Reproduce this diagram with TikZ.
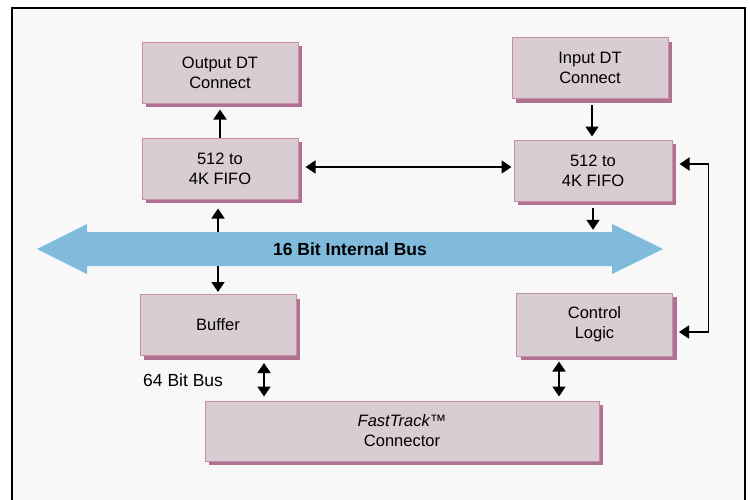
\documentclass[tikz,border=0pt]{standalone}
\usepackage{fontspec}
\setmainfont{Liberation Sans}
\usetikzlibrary{arrows.meta,shadows}
\definecolor{boxfill}{HTML}{D9CCD2}
\definecolor{boxline}{HTML}{C490A8}
\definecolor{boxshade}{HTML}{B07290}
\definecolor{busblue}{HTML}{80BADC}
\definecolor{paper}{HTML}{F8F8F8}
\tikzset{
    unit/.style={rectangle, draw=boxline, fill=boxfill, line width=1pt,
        minimum width=156pt, minimum height=61pt, align=center,
        font=\fontsize{16.5}{20}\selectfont,
        drop shadow={shadow xshift=4pt, shadow yshift=-4pt, fill=boxshade, opacity=1}},
    link/.style={line width=1.6pt, {Triangle[length=10pt,width=13pt]}-{Triangle[length=10pt,width=13pt]}},
    onelink/.style={line width=1.6pt, -{Triangle[length=10pt,width=13pt]}}
}
\begin{document}
\begin{tikzpicture}[x=1pt,y=-1pt]
        \useasboundingbox (0,0) rectangle (750,499);
        \clip (0,0) rectangle (750,499);
        \filldraw [fill=paper, line width=2pt] (12,8) rectangle (745,530);
        \fill [busblue] (37,249) -- (87,224) -- (87,232) -- (612,232) -- (612,224)
            -- (663,249) -- (612,274) -- (612,266) -- (87,266) -- (87,274) -- cycle;
        \node (bus) at (350,249) [minimum width=525pt, minimum height=34pt, inner sep=0pt,
            font=\fontsize{17.5}{20}\selectfont\bfseries] {16 Bit Internal Bus};
        \node[unit] (outdt) at (220,72.5) {Output DT\\Connect};
        \node[unit] (fifol) at (220,168.5) {512 to\\4K FIFO};
        \node[unit] (indt) at (590,68) {Input DT\\Connect};
        \node[unit, minimum width=158pt] (fifor) at (593,170.5) {512 to\\4K FIFO};
        \node[unit] (buf) at (218,325) {Buffer};
        \node[unit, minimum height=63pt] (ctrl) at (594.5,324.5) {Control\\Logic};
        \node[unit, minimum width=394pt, minimum height=60pt] (conn) at (402,431)
            {\textit{FastTrack™}\\Connector};
        \node (buslbl) at (143,380) [anchor=west, inner sep=0pt,
            font=\fontsize{17.5}{20}\selectfont] {64 Bit Bus};
        \draw [onelink, shorten >=6pt] (fifol.north) -- (outdt.south);
        \draw [link, shorten <=7pt, shorten >=2pt] ([yshift=1.5pt]fifol.east) -- ([yshift=1.5pt]fifol.east -| fifor.west);
        \draw [onelink, shorten <=6pt, shorten >=3pt] ([xshift=2pt]indt.south) -- ([xshift=2pt]indt.south |- fifor.north);
        \draw [onelink, shorten <=6pt, shorten >=2pt] (fifor.south) -- (fifor.south |- bus.north);
        \draw [onelink, shorten >=9pt] ([xshift=-2pt]fifol.south |- bus.north) -- ([xshift=-2pt]fifol.south);
        \draw [onelink, shorten >=2pt] (bus.south -| buf.north) -- (buf.north);
        \draw [link, shorten <=7pt, shorten >=6pt] ([yshift=6.5pt]fifor.east) -- ++(36,0) |- ([yshift=-7.5pt]ctrl.east);
        \draw [link, shorten <=7pt, shorten >=4pt] ([xshift=46pt]buf.south) -- ([xshift=46pt]buf.south |- conn.north);
        \draw [link, shorten <=5pt, shorten >=4pt] ([xshift=-35.5pt]ctrl.south) -- ([xshift=-35.5pt]ctrl.south |- conn.north);
\end{tikzpicture}
\end{document}
